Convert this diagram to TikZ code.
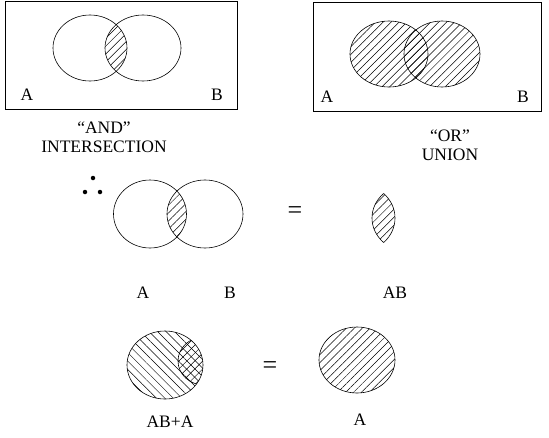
\documentclass[tikz,border=0pt]{standalone}
\usepackage{fontspec}
\setmainfont{Liberation Serif}
\usetikzlibrary{patterns.meta}
\begin{document}
\begin{tikzpicture}[x=1pt,y=-1pt,line width=0.6pt,
  lbl/.style={font=\fontsize{17.5}{20}\selectfont,inner sep=0pt},
  eqs/.style={font=\fontsize{26}{28}\selectfont,inner sep=0pt},
  hatchNE/.style={pattern={Lines[angle=45,distance=5.6pt,line width=0.5pt]}},
  hatchNW/.style={pattern={Lines[angle=-45,distance=6pt,line width=0.5pt]}},
  dot/.style={circle,fill=black,inner sep=0pt,minimum size=4.5pt}]
\useasboundingbox (0,0) rectangle (549,437);
% ---- Box 1: intersection
\draw (5,1) rectangle (237,109);
\begin{scope}
  \clip (90,48) ellipse [x radius=37pt, y radius=33pt];
  \fill[hatchNE] (143,48) ellipse [x radius=38pt, y radius=33pt];
\end{scope}
\draw (90,48) ellipse [x radius=37pt, y radius=33pt];
\draw (143,48) ellipse [x radius=38pt, y radius=33pt];
\node[lbl] (a1) at (27,95) {A};
\node[lbl] (b1) at (217,95) {B};
\node[lbl] (t1) at (104,128) {“AND”};
\node[lbl] (t2) at (104,147) {INTERSECTION};
% ---- Box 2: union
\draw (313,2) rectangle (541,111);
\fill[hatchNE] (389,54) ellipse [x radius=39pt, y radius=33pt];
\fill[hatchNE] (442,54) ellipse [x radius=38pt, y radius=33pt];
\draw (389,54) ellipse [x radius=39pt, y radius=33pt];
\draw (442,54) ellipse [x radius=38pt, y radius=33pt];
\node[lbl] (a2) at (327,97) {A};
\node[lbl] (b2) at (523,97) {B};
\node[lbl] (t3) at (450,136) {“OR”};
\node[lbl] (t4) at (450,155) {UNION};
% ---- middle row
\node[dot] (d1) at (93,178) {};
\node[dot] (d2) at (85,192) {};
\node[dot] (d3) at (100,192) {};
\begin{scope}
  \clip (150,214) ellipse [x radius=36.5pt, y radius=34pt];
  \fill[hatchNE] (205,214) ellipse [x radius=38pt, y radius=34pt];
\end{scope}
\draw (150,214) ellipse [x radius=36.5pt, y radius=34pt];
\draw (205,214) ellipse [x radius=38pt, y radius=34pt];
\node[eqs] (eq1) at (295,213) {=};
\begin{scope}
  \clip (358,218) ellipse [x radius=37pt, y radius=34pt];
  \fill[hatchNE] (410,218) ellipse [x radius=38pt, y radius=34pt];
\end{scope}
\begin{scope}
  \clip (358,218) ellipse [x radius=37pt, y radius=34pt];
  \draw (410,218) ellipse [x radius=38pt, y radius=34pt];
\end{scope}
\begin{scope}
  \clip (410,218) ellipse [x radius=38pt, y radius=34pt];
  \draw (358,218) ellipse [x radius=37pt, y radius=34pt];
\end{scope}
\node[lbl] (a3) at (143,293) {A};
\node[lbl] (b3) at (230,293) {B};
\node[lbl] (ab) at (395,293) {AB};
% ---- bottom row
\fill[hatchNW] (165,365) ellipse [x radius=38pt, y radius=34pt];
\begin{scope}
  \clip (165,365) ellipse [x radius=38pt, y radius=34pt];
  \fill[hatchNE] (204,361) ellipse [x radius=26pt, y radius=24pt];
  \draw (204,361) ellipse [x radius=26pt, y radius=24pt];
\end{scope}
\draw (165,365) ellipse [x radius=38pt, y radius=34pt];
\node[eqs] (eq2) at (270,368) {=};
\fill[hatchNE] (357,360) ellipse [x radius=38pt, y radius=33pt];
\draw (357,360) ellipse [x radius=38pt, y radius=33pt];
\node[lbl] (abpa) at (170,422) {AB+A};
\node[lbl] (a4) at (360,420) {A};
\end{tikzpicture}
\end{document}
